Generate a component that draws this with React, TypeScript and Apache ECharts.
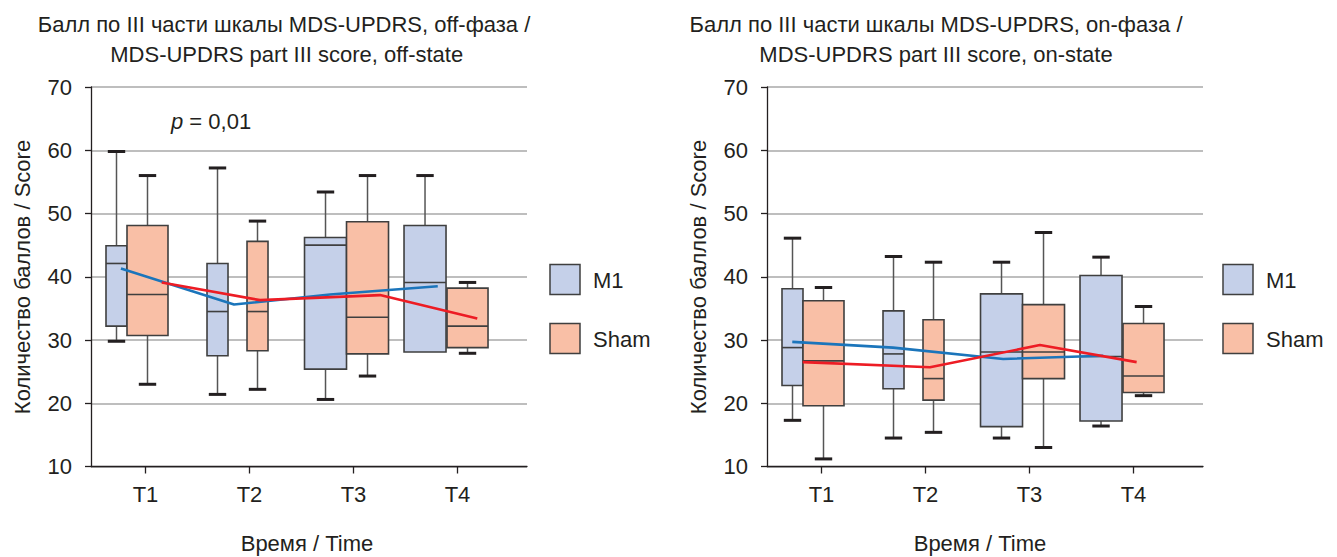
import React, { useEffect, useRef } from "react";
import * as echarts from "echarts";

// ---- Data ----
const categories = ["T1", "T2", "T3", "T4"];
const yTicks = [10, 20, 30, 40, 50, 60, 70];

// [min, q1, median, q3, max]
const offM1Box = [
  [29.8, 32.2, 42.1, 44.9, 59.8],
  [21.4, 27.5, 34.5, 42.1, 57.2],
  [20.6, 25.4, 45.0, 46.2, 53.4],
  [28.1, 28.1, 39.1, 48.1, 56.0],
];
const offShamBox = [
  [23.0, 30.7, 37.2, 48.1, 56.0],
  [22.2, 28.3, 34.5, 45.6, 48.8],
  [24.3, 27.8, 33.6, 48.7, 56.0],
  [27.9, 28.8, 32.2, 38.2, 39.1],
];
const onM1Box = [
  [17.3, 22.8, 28.8, 38.1, 46.1],
  [14.5, 22.3, 27.8, 34.6, 43.2],
  [14.5, 16.3, 28.1, 37.3, 42.3],
  [16.4, 17.2, 27.4, 40.2, 43.1],
];
const onShamBox = [
  [11.2, 19.6, 26.7, 36.2, 38.3],
  [15.4, 20.5, 23.9, 33.2, 42.3],
  [13.0, 23.9, 28.1, 35.6, 47.0],
  [21.2, 21.7, 24.3, 32.6, 35.3],
];

const offM1Mean = [41.3, 35.6, 37.2, 38.5];
const offShamMean = [39.1, 36.3, 37.1, 33.4];
const onM1Mean = [29.7, 28.8, 27.0, 27.5];
const onShamMean = [26.5, 25.7, 29.2, 26.5];

// ---- Layout (positions/sizes, not data) ----
const m1BoxOffsetPx = [-29, -32, -28, -32.5];
const m1BoxWidthPx = [21, 21, 42, 42];
const shamBoxOffsetPx = [2, 8, 14, 10];
const shamBoxWidthPx = [41, 21, 42, 41];
const offM1MeanDx = [-0.236, -0.149, -0.226, -0.19];
const offShamMeanDx = [0.156, 0.101, 0.255, 0.19];
const onM1MeanDx = [-0.281, -0.313, -0.253, -0.291];
const onShamMeanDx = [-0.181, 0.043, 0.1, 0.03];

const FONT = "'Liberation Sans', Arial, sans-serif";
const TXT = "#231f20";
const M1_FILL = "#c5d0e9";
const SHAM_FILL = "#f9bfa6";
const BOX_STROKE = "#3f3f3f";
const BLUE = "#1b75bb";
const RED = "#ed1c24";

function boxRender(offsets: number[], widths: number[], fill: string) {
  return (params: any, api: any) => {
    const i = params.dataIndex;
    const xv = api.value(0);
    const pMin = api.coord([xv, api.value(1)]);
    const cx = pMin[0] + offsets[i];
    const yMin = pMin[1];
    const yQ1 = api.coord([xv, api.value(2)])[1];
    const yMed = api.coord([xv, api.value(3)])[1];
    const yQ3 = api.coord([xv, api.value(4)])[1];
    const yMax = api.coord([xv, api.value(5)])[1];
    const w = widths[i];
    const capHalf = 8.7;
    const children: any[] = [];
    const wStyle = { stroke: "#555555", lineWidth: 1.5 };
    const cStyle = { stroke: TXT, lineWidth: 3 };
    if (yQ3 - yMax > 0.5) {
      children.push({ type: "line", shape: { x1: cx, y1: yQ3, x2: cx, y2: yMax }, style: wStyle });
      children.push({ type: "line", shape: { x1: cx - capHalf, y1: yMax, x2: cx + capHalf, y2: yMax }, style: cStyle });
    }
    if (yMin - yQ1 > 0.5) {
      children.push({ type: "line", shape: { x1: cx, y1: yQ1, x2: cx, y2: yMin }, style: wStyle });
      children.push({ type: "line", shape: { x1: cx - capHalf, y1: yMin, x2: cx + capHalf, y2: yMin }, style: cStyle });
    }
    children.push({
      type: "rect",
      shape: { x: cx - w / 2, y: yQ3, width: w, height: yQ1 - yQ3 },
      style: { fill, stroke: BOX_STROKE, lineWidth: 1.6 },
    });
    children.push({
      type: "line",
      shape: { x1: cx - w / 2, y1: yMed, x2: cx + w / 2, y2: yMed },
      style: { stroke: BOX_STROKE, lineWidth: 1.6 },
    });
    return { type: "group", children };
  };
}

function boxSeries(name: string, data: number[][], gi: number, offsets: number[], widths: number[], fill: string) {
  return {
    type: "custom",
    name,
    xAxisIndex: gi,
    yAxisIndex: gi,
    renderItem: boxRender(offsets, widths, fill),
    encode: { x: 0, y: [1, 2, 3, 4, 5] },
    data: data.map((d, i) => [i + 1, ...d]),
    z: 2,
  };
}

function meanSeries(name: string, means: number[], dx: number[], gi: number, color: string) {
  return {
    type: "line",
    name,
    xAxisIndex: gi,
    yAxisIndex: gi,
    data: means.map((m, i) => [i + 1 + dx[i], m]),
    symbol: "none",
    lineStyle: { color, width: 2.6 },
    z: 5,
  };
}

function xAxis(gi: number) {
  return {
    type: "value",
    gridIndex: gi,
    min: 0.476,
    max: 4.668,
    splitLine: { show: false },
    axisLine: { show: true, onZero: false, lineStyle: { color: TXT, width: 1.3 } },
    axisTick: { show: true, customValues: [1, 2, 3, 4], length: 7, lineStyle: { color: TXT, width: 1.3 } },
    axisLabel: {
      customValues: [1, 2, 3, 4],
      formatter: (v: number) => categories[Math.round(v) - 1],
      fontSize: 22,
      fontFamily: FONT,
      color: TXT,
      margin: 17,
    },
  };
}

function yAxis(gi: number) {
  return {
    type: "value",
    gridIndex: gi,
    min: yTicks[0],
    max: yTicks[yTicks.length - 1],
    interval: 10,
    axisLine: { show: true, lineStyle: { color: TXT, width: 1.3 } },
    axisTick: { show: true, length: 6, lineStyle: { color: TXT, width: 1.3 } },
    axisLabel: { fontSize: 22, fontFamily: FONT, color: TXT, margin: 19 },
    splitLine: { show: true, lineStyle: { color: "#a8a8a8", width: 1.5 } },
  };
}

function txt(text: string, x: number, y: number, extra: any = {}) {
  return {
    type: "text",
    x,
    y,
    style: {
      text,
      fontSize: 22,
      fontFamily: FONT,
      fill: TXT,
      align: "center",
      verticalAlign: "middle",
      ...extra,
    },
  };
}

function legend(x: number) {
  return [
    { type: "rect", shape: { x, y: 264.5, width: 30, height: 30 }, style: { fill: M1_FILL, stroke: BOX_STROKE, lineWidth: 1.5 } },
    txt("M1", x + 43, 280, { align: "left" }),
    { type: "rect", shape: { x, y: 323.5, width: 30, height: 30 }, style: { fill: SHAM_FILL, stroke: BOX_STROKE, lineWidth: 1.5 } },
    txt("Sham", x + 43, 339, { align: "left" }),
  ];
}

export default function App() {
  const ref = useRef<HTMLDivElement>(null);
  useEffect(() => {
    if (!ref.current) return;
    const chart = echarts.init(ref.current, undefined, { renderer: "svg" });
    chart.setOption({
      animation: false,
      backgroundColor: "#ffffff",
      grid: [
        { left: 91, top: 87, width: 436, height: 379.5 },
        { left: 767, top: 87, width: 436, height: 379.5 },
      ],
      xAxis: [xAxis(0), xAxis(1)],
      yAxis: [yAxis(0), yAxis(1)],
      series: [
        boxSeries("M1", offM1Box, 0, m1BoxOffsetPx, m1BoxWidthPx, M1_FILL),
        boxSeries("Sham", offShamBox, 0, shamBoxOffsetPx, shamBoxWidthPx, SHAM_FILL),
        boxSeries("M1", onM1Box, 1, m1BoxOffsetPx, m1BoxWidthPx, M1_FILL),
        boxSeries("Sham", onShamBox, 1, shamBoxOffsetPx, shamBoxWidthPx, SHAM_FILL),
        meanSeries("M1 mean", offM1Mean, offM1MeanDx, 0, BLUE),
        meanSeries("Sham mean", offShamMean, offShamMeanDx, 0, RED),
        meanSeries("M1 mean", onM1Mean, onM1MeanDx, 1, BLUE),
        meanSeries("Sham mean", onShamMean, onShamMeanDx, 1, RED),
      ],
      graphic: [
        txt("Балл по III части шкалы MDS-UPDRS, off-фаза /", 284, 24.5),
        txt("MDS-UPDRS part III score, off-state", 286.7, 54.5),
        txt("Балл по III части шкалы MDS-UPDRS, on-фаза /", 936, 24.5),
        txt("MDS-UPDRS part III score, on-state", 936, 54.5),
        { ...txt("Количество баллов / Score", 22.5, 277), rotation: Math.PI / 2 },
        { ...txt("Количество баллов / Score", 698.5, 277), rotation: Math.PI / 2 },
        txt("Время / Time", 307, 543),
        txt("Время / Time", 980, 543),
        {
          type: "text",
          x: 171,
          y: 121.7,
          style: {
            text: "{i|p} = 0,01",
            fontSize: 22,
            fontFamily: FONT,
            fill: TXT,
            align: "left",
            verticalAlign: "middle",
            rich: { i: { fontStyle: "italic", fontSize: 22, fontFamily: FONT, fill: TXT } },
          },
        },
        ...legend(550),
        ...legend(1223),
      ],
    });
    return () => chart.dispose();
  }, []);
  return (
    <div
      ref={ref}
      style={{ position: "fixed", left: 0, top: 0, width: 1337, height: 557, background: "#fff" }}
    />
  );
}
